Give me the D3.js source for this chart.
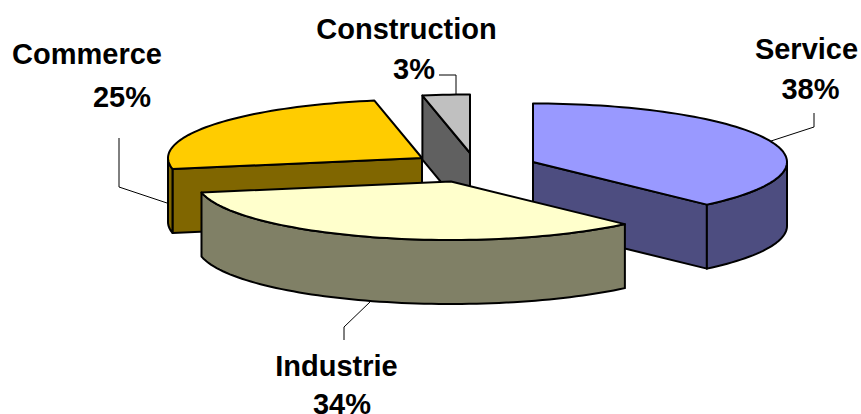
<!DOCTYPE html>
<html><head><meta charset="utf-8">
<script src="https://cdn.jsdelivr.net/npm/d3@7/dist/d3.min.js"></script>
<style>html,body{margin:0;padding:0;background:#fff}svg{display:block}
text{font-family:"Liberation Sans",Arial,sans-serif;font-weight:bold;font-size:29px;fill:#000}</style>
</head><body><div id="c"></div>
<script>
const categories=["Service","Industrie","Commerce","Construction"];
const shares=[38,34,25,3];
const shareLabels=["38%","34%","25%","3%"];
const topColors=["#9999FF","#FFFFCC","#FFCC00","#C0C0C0"];
const sideColors=["#4D4D80","#808066","#806600","#606060"];
const centers=[[533,162],[451,181.5],[422,158],[470,153]];
const nameAnchors=[[806.5,59],[336.5,376],[87,64],[406.5,39]];
const valueAnchors=[[810.5,99],[342,414],[122,107],[414,79]];
const leaders=[
 [[771,141],[814,127],[814,113]],
 [[371,301],[344,327],[344,340]],
 [[167,203],[119,187],[119,138]],
 [[456,95],[456,75],[439,75]]
];
const rx=254, ry=58.5, depth=64, w=861, h=414;
const svg=d3.select("#c").append("svg").attr("width",w).attr("height",h);
const pie=d3.pie().sort(null).value(d=>d).startAngle(0).endAngle(2*Math.PI);
const arcs=pie(shares);
const line=d3.line();
function rim(i,a,dy=0){
  const x=d3.scaleLinear([-1,1],[centers[i][0]-rx,centers[i][0]+rx]);
  const y=d3.scaleLinear([-1,1],[centers[i][1]-ry,centers[i][1]+ry]);
  return [x(Math.sin(a)),y(-Math.cos(a))+dy];
}
function samples(a0,a1){const n=Math.max(2,Math.ceil(Math.abs(a1-a0)/0.03));return d3.range(n+1).map(k=>a0+(a1-a0)*k/n);}
function face(pts,fill){
  svg.append("path").attr("d",line(pts)+"Z").attr("fill",fill).attr("stroke","#000").attr("stroke-width",2).attr("stroke-linejoin","round");
}
const drawOrder=[3,2,0,1];
drawOrder.forEach(i=>{
  const s=arcs[i], c=centers[i], a0=s.startAngle, a1=s.endAngle;
  const apex=[c[0],c[1]], apexB=[c[0],c[1]+depth];
  if(-Math.sin(a0)>0.001){face([apex,rim(i,a0),rim(i,a0,depth),apexB],sideColors[i]);}
  if(Math.sin(a1)>0.001){face([apex,rim(i,a1),rim(i,a1,depth),apexB],sideColors[i]);}
  const f0=Math.max(a0,Math.PI/2), f1=Math.min(a1,3*Math.PI/2);
  if(f1>f0){
    const t=samples(f0,f1);
    face([...t.map(a=>rim(i,a)),...t.slice().reverse().map(a=>rim(i,a,depth))],sideColors[i]);
  }
  face([apex,...samples(a0,a1).map(a=>rim(i,a))],topColors[i]);
});
leaders.forEach(l=>svg.append("path").attr("d",line(l)).attr("fill","none").attr("stroke","#000").attr("stroke-width",1));
categories.forEach((n,i)=>{
  svg.append("text").attr("x",nameAnchors[i][0]).attr("y",nameAnchors[i][1]).attr("text-anchor","middle").text(n);
  svg.append("text").attr("x",valueAnchors[i][0]).attr("y",valueAnchors[i][1]).attr("text-anchor","middle").text(shareLabels[i]);
});
</script></body></html>
